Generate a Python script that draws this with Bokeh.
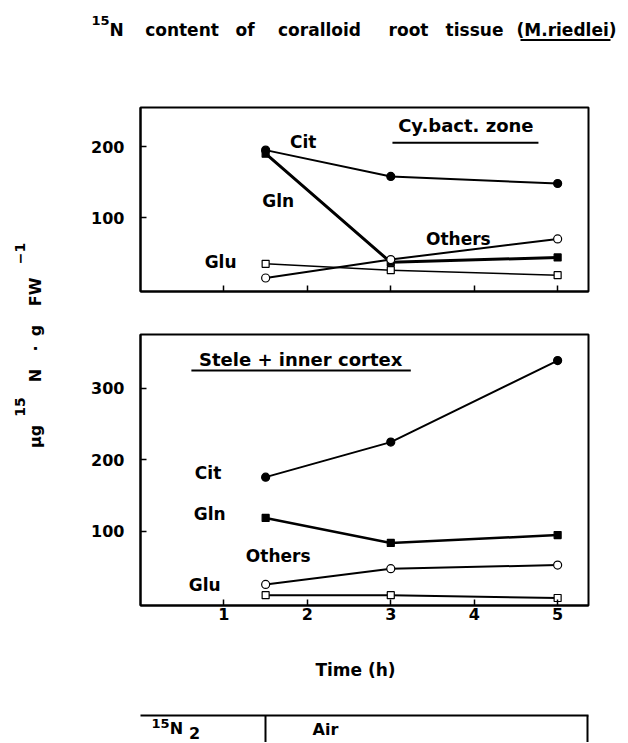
import math
from bokeh.plotting import figure
from bokeh.models import Range1d, FixedTicker
from bokeh.layouts import column, row
from bokeh.embed import file_html
from bokeh.resources import INLINE
from bokeh.core.properties import value

# ---------------- data ----------------
time_h = [1.5, 3, 5]
# Cy.bact. zone
cy_cit = [195, 158, 148]
cy_gln = [190, 37, 44]
cy_others = [15, 41, 70]
cy_glu = [35, 26, 19]
# Stele + inner cortex
st_cit = [176, 225, 339]
st_gln = [119, 84, 95]
st_others = [26, 48, 53]
st_glu = [11, 11, 7]

x_ticks = [1, 2, 3, 4, 5]
cy_yticks = [100, 200]
st_yticks = [100, 200, 300]

title_words = ["N", "content", "of", "coralloid", "root", "tissue", "(M.riedlei)"]
ylabel_tokens = ["\u03bcg", "15", "N", "\u00b7", "g", "FW", "\u22121"]

FONT = value("DejaVu Sans")


def blank(x0, y0, w, h):
    p = figure(width=w, height=h, x_range=Range1d(x0, x0 + w), y_range=Range1d(y0 + h, y0),
               x_axis_location=None, y_axis_location=None, toolbar_location=None,
               output_backend="svg", min_border=0)
    p.grid.visible = False
    p.outline_line_color = None
    p.background_fill_color = "white"
    p.border_fill_color = "white"
    return p


def txt(p, x, y, t, size, align="center", angle=0):
    p.text(x=x, y=y, text=t, text_font=FONT, text_font_style="bold",
           text_font_size=size, text_align=align, text_baseline="middle",
           text_color="black", angle=angle)


# ---------------- title ----------------
pt = blank(0, 0, 620, 95)
txt(pt, [116, 181.5, 244.5, 319, 408, 474, 566], [29] * 7, title_words, "17px")
txt(pt, [100], [19.5], ["15"], "13px")
pt.line([520, 610], [39.5, 39.5], line_color="black", line_width=2)

# ---------------- y label ----------------
py = blank(0, 95, 70, 545)
ys = [436, 406.5, 375, 348, 330, 291.5, 253]
xs = [35, 19, 35, 35, 35, 35, 19]
sizes = ["16px", "14px", "16px", "16px", "16px", "16px", "14px"]
for t, xx, yy, s in zip(ylabel_tokens, xs, ys, sizes):
    txt(py, [xx], [yy], [t], s, angle=math.pi / 2)


# ---------------- panels ----------------
def panel(h, ylo, yhi, yticks, mb_top, mb_bottom, xlabels):
    p = figure(width=550, height=h, x_range=Range1d(0, 5.37), y_range=Range1d(ylo, yhi),
               toolbar_location=None, output_backend="svg",
               min_border_left=70, min_border_right=32,
               min_border_top=mb_top, min_border_bottom=mb_bottom)
    p.grid.visible = False
    p.outline_line_color = "black"
    p.outline_line_width = 2
    p.background_fill_color = "white"
    p.border_fill_color = "white"
    p.xaxis.ticker = FixedTicker(ticks=x_ticks)
    p.yaxis.ticker = FixedTicker(ticks=yticks)
    for ax in p.axis:
        ax.axis_line_width = 2
        ax.axis_line_color = "black"
        ax.major_tick_in = 6
        ax.major_tick_out = 0
        ax.minor_tick_in = 0
        ax.minor_tick_out = 0
        ax.major_tick_line_width = 1.5
        ax.major_label_text_font = "DejaVu Sans"
        ax.major_label_text_font_style = "bold"
        ax.major_label_text_font_size = "16px"
        ax.major_label_text_color = "black"
    p.yaxis.major_label_standoff = 16
    if xlabels:
        p.xaxis.major_label_standoff = 2
    else:
        p.xaxis.major_label_standoff = 0
        p.xaxis.major_label_text_font_size = "0px"
        p.xaxis.major_label_overrides = {t: "" for t in x_ticks}
    return p


def series(p, y, marker, filled, lw, size):
    p.line(time_h, y, line_color="black", line_width=lw, line_join="round")
    p.scatter(time_h, y, marker=marker, size=size, line_color="black", line_width=1.2,
              fill_color="black" if filled else "white")


p1 = panel(217, -4, 255, cy_yticks, 12, 21, False)
series(p1, cy_gln, "square", True, 3, 7)
series(p1, cy_cit, "circle", True, 2, 8)
series(p1, cy_others, "circle", False, 2, 8)
series(p1, cy_glu, "square", False, 1.5, 7)
txt(p1, [1.95], [206], ["Cit"], "17px")
txt(p1, [1.65], [124], ["Gln"], "17px")
txt(p1, [3.81], [70], ["Others"], "17px")
txt(p1, [0.96], [38], ["Glu"], "17px")
txt(p1, [3.9], [229], ["Cy.bact. zone"], "18px")
p1.line([3.02, 4.77], [205.5, 205.5], line_color="black", line_width=2)

p2 = panel(328, -3.5, 375.5, st_yticks, 22, 35, True)
series(p2, st_cit, "circle", True, 2, 8)
series(p2, st_gln, "square", True, 2.5, 7)
series(p2, st_others, "circle", False, 2, 8)
series(p2, st_glu, "square", False, 2, 7)
txt(p2, [1.92], [340], ["Stele + inner cortex"], "18px")
p2.line([0.61, 3.24], [325, 325], line_color="black", line_width=2)
txt(p2, [0.81], [182], ["Cit"], "17px")
txt(p2, [0.83], [124.5], ["Gln"], "17px")
txt(p2, [1.65], [66], ["Others"], "17px")
txt(p2, [0.77], [24.5], ["Glu"], "17px")

# ---------------- footer: x label + table ----------------
pf = blank(0, 640, 620, 102)
txt(pf, [355], [669], ["Time (h)"], "17px")
pf.line([140, 588], [715, 715], line_color="black", line_width=2)
pf.line([265, 265], [715, 742], line_color="black", line_width=2)
pf.line([587, 587], [715, 742], line_color="black", line_width=2)
txt(pf, [160], [722.5], ["15"], "13px")
txt(pf, [176], [727.5], ["N"], "16px")
txt(pf, [194], [732], ["2"], "16px")
txt(pf, [325], [729], ["Air"], "16px")

layout = column(pt, row(py, column(p1, p2)), pf)
open("out.html", "w").write(file_html(layout, INLINE))
